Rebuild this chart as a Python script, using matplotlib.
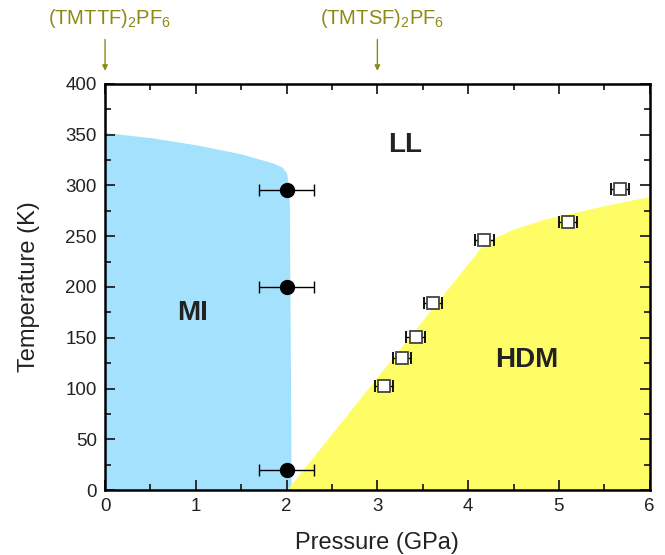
import numpy as np
import matplotlib.pyplot as plt
from matplotlib.ticker import MultipleLocator

plt.rcParams['font.family'] = ['Liberation Sans', 'DejaVu Sans']
plt.rcParams['mathtext.fontset'] = 'custom'
plt.rcParams['mathtext.rm'] = 'Liberation Sans'

# Phase boundaries
mi_P = [0.0, 0.5, 1.0, 1.5, 1.85, 1.95, 2.0, 2.02, 2.03, 2.04, 2.05]
mi_T = [352, 347, 340, 331, 322, 318, 312, 300, 280, 150, 0]

hdm_P = [2.0, 4.15, 4.3, 4.5, 4.85, 5.25, 5.6, 6.0]
hdm_T = [0, 240, 249, 257, 267, 275, 282, 289]

# Filled circles (MI-LL boundary)
circ_P = [2.0, 2.0, 2.0]
circ_T = [295, 200, 20]
circ_err = [0.3, 0.3, 0.3]

# Open squares (HDM boundary)
sq_P = [3.07, 3.27, 3.42, 3.61, 4.18, 5.10, 5.67]
sq_T = [102, 130, 151, 184, 246, 264, 296]
sq_err = [0.1, 0.1, 0.1, 0.1, 0.1, 0.1, 0.1]

fig = plt.figure(figsize=(6.65, 5.55), dpi=100)
ax = fig.add_axes([0.158, 0.117, 0.819, 0.732])

ax.fill_between(mi_P, 0, mi_T, color='#a3e1fd', lw=0, zorder=1)
ax.fill_between(hdm_P, 0, hdm_T, color='#fffd66', lw=0, zorder=1)

ax.errorbar(circ_P, circ_T, xerr=circ_err, fmt='o', color='black', ms=10,
            elinewidth=1, capsize=4, capthick=1, zorder=3)
ax.errorbar(sq_P, sq_T, xerr=sq_err, fmt='s', mfc='white', mec='#444444',
            mew=1.3, color='black', ms=8.5, elinewidth=1, capsize=4,
            capthick=1, zorder=3)

ax.text(3.31, 340, 'LL', fontsize=20, fontweight='bold', color='#222222',
        ha='center', va='center')
ax.text(0.96, 174, 'MI', fontsize=20, fontweight='bold', color='#222222',
        ha='center', va='center')
ax.text(4.65, 128, 'HDM', fontsize=20, fontweight='bold', color='#222222',
        ha='center', va='center')

olive = '#8c8a14'
for xp, lab in [(0, r'(TMTTF)$_\mathregular{2}$PF$_\mathregular{6}$'),
                (3, r'(TMTSF)$_\mathregular{2}$PF$_\mathregular{6}$')]:
    ax.annotate('', xy=(xp, 1.025), xycoords=('data', 'axes fraction'),
                xytext=(xp, 1.116), textcoords=('data', 'axes fraction'),
                arrowprops=dict(arrowstyle='-|>', color=olive, lw=1,
                                mutation_scale=8),
                annotation_clip=False)
    ax.text(xp + 0.05, 1.147, lab, transform=ax.get_xaxis_transform(),
            fontsize=14.5, color=olive, ha='center', va='baseline')

ax.set_xlim(0, 6)
ax.set_ylim(0, 400)
ax.xaxis.set_major_locator(MultipleLocator(1))
ax.xaxis.set_minor_locator(MultipleLocator(0.5))
ax.yaxis.set_major_locator(MultipleLocator(50))
ax.yaxis.set_minor_locator(MultipleLocator(25))
ax.tick_params(which='both', direction='in', top=True, right=True,
               labelsize=13.5, width=1.3, colors='#222222', pad=6)
ax.tick_params(which='major', length=7)
ax.tick_params(which='minor', length=4)
for s in ax.spines.values():
    s.set_linewidth(1.8)
    s.set_zorder(4)

ax.set_xlabel('Pressure (GPa)', fontsize=17, color='#222222', labelpad=12)
ax.set_ylabel('Temperature (K)', fontsize=17, color='#222222', labelpad=18)

fig.savefig('out.png', dpi=100)
